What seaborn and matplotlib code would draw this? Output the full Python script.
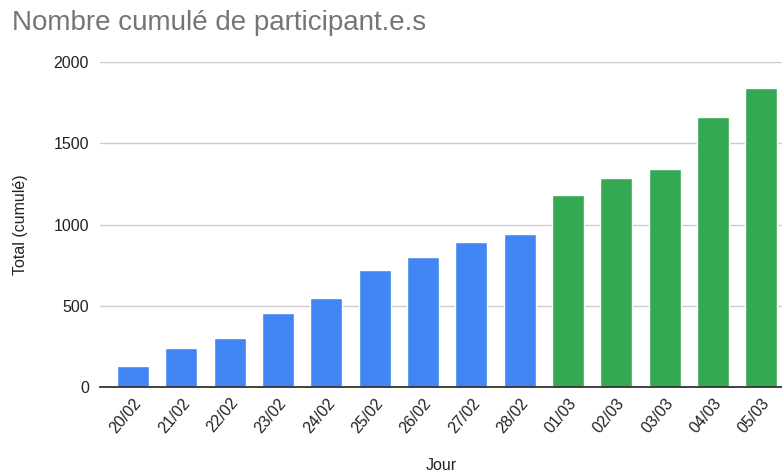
import pandas as pd
import numpy as np
import matplotlib
matplotlib.use('Agg')
import matplotlib.pyplot as plt
import seaborn as sns

# Data
jours = ['20/02', '21/02', '22/02', '23/02', '24/02', '25/02', '26/02',
         '27/02', '28/02', '01/03', '02/03', '03/03', '04/03', '05/03']
totaux = [131, 243, 300, 455, 551, 720, 800, 893, 943, 1181, 1286, 1345, 1662, 1840]
mois = ['fev'] * 9 + ['mars'] * 5

df = pd.DataFrame({'Jour': jours, 'Total': totaux, 'Mois': mois})

sns.set_style('white')
plt.rcParams['font.family'] = ['Liberation Sans', 'DejaVu Sans']

fig = plt.figure(figsize=(7.82, 4.74), dpi=100)
ax = fig.add_axes([0.128, 0.1835, 0.872, 0.6855])

sns.barplot(data=df, x='Jour', y='Total', hue='Mois',
            palette={'fev': '#4285F4', 'mars': '#34A853'},
            saturation=1, dodge=False, width=0.66, legend=False, ax=ax)

ax.set_ylim(0, 2000)
ax.set_xlim(-0.68, 13.43)
ax.set_yticks([0, 500, 1000, 1500, 2000])
ax.yaxis.grid(True, color='#cccccc', linewidth=1)
ax.set_axisbelow(True)
for s in ['top', 'right', 'left']:
    ax.spines[s].set_visible(False)
ax.spines['bottom'].set_color('#333333')
ax.spines['bottom'].set_linewidth(1.3)
ax.tick_params(axis='both', length=0, labelsize=11.5, colors='#222222')
ax.tick_params(axis='y', pad=8)
ax.tick_params(axis='x', pad=6)
plt.setp(ax.get_xticklabels(), rotation=50, ha='right', rotation_mode='anchor')

ax.set_xlabel('Jour', fontsize=11.5, color='#222222', labelpad=16)
ax.set_ylabel('Total (cumulé)', fontsize=11.5, color='#222222', labelpad=18)

fig.text(0.015, 0.952, 'Nombre cumulé de participant.e.s', fontsize=20,
         color='#757575', va='center', ha='left')

fig.savefig('out.png', dpi=100)
plt.close(fig)
